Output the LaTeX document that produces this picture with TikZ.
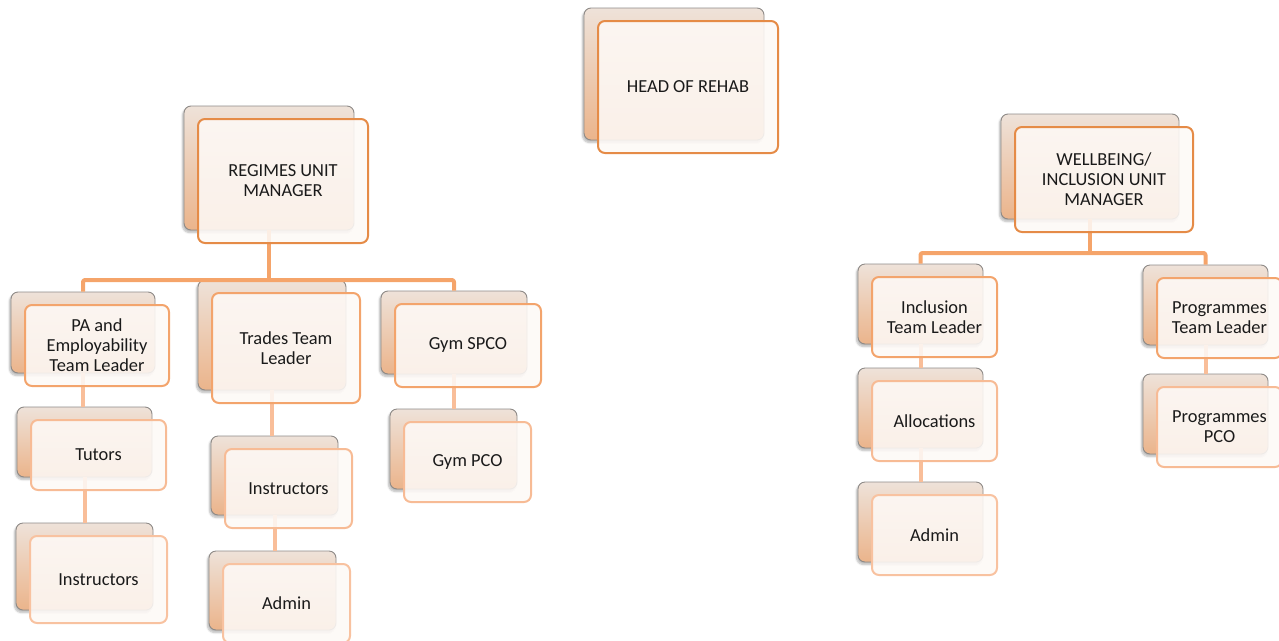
\documentclass[tikz,border=0pt]{standalone}
\usepackage{fontspec}
\setmainfont{Carlito}
\usetikzlibrary{shadows.blur}
\definecolor{bordA}{HTML}{E58B47}
\definecolor{bordB}{HTML}{F3A46C}
\definecolor{bordC}{HTML}{F7BB95}
\definecolor{bordD}{HTML}{F8C2A0}
\definecolor{backtop}{HTML}{EEE2D9}
\definecolor{backbot}{HTML}{EBB48B}
\definecolor{backline}{HTML}{8E8A87}
\definecolor{frontfill}{HTML}{FDF9F6}
\definecolor{connA}{HTML}{F5A46A}
\definecolor{connB}{HTML}{F9BE99}
\definecolor{txt}{HTML}{1A1A1A}
\pgfdeclarelayer{cardback}
\pgfdeclarelayer{conn}
\pgfsetlayers{cardback,conn,main}
\tikzset{
  backcard/.style={draw=backline, line width=0.9pt, rounded corners=7pt,
    top color=backtop, bottom color=backbot, inner sep=0pt,
    blur shadow={shadow xshift=-1.5pt, shadow yshift=-2.5pt, shadow blur steps=6, shadow opacity=28}},
  frontcard/.style={line width=2pt, rounded corners=7pt, fill=frontfill, fill opacity=0.88,
    text opacity=1, inner sep=2pt, align=center, text=txt,
    font=\fontsize{18.4}{20}\selectfont},
  lvlA/.style={draw=bordA},
  lvlB/.style={draw=bordB},
  lvlC/.style={draw=bordC},
  lvlD/.style={draw=bordD},
  connmain/.style={draw=connA, line width=4pt, line join=round},
  connsub/.style={draw=connB, line width=4pt},
}
\newcommand\orgcard[7]{%
  \begin{pgfonlayer}{cardback}
  \node[backcard, minimum width=#5pt, minimum height=#6pt] (#1) at (#3-14,#4-13) {};
  \end{pgfonlayer}
  \node[frontcard, #2, minimum width=#5pt, minimum height=#6pt] (#1-f) at (#3,#4) {#7};
}
\begin{document}
\begin{tikzpicture}[x=1pt,y=-1pt]
\useasboundingbox (0,0) rectangle (1279,640);
% cards
\orgcard{head}{lvlA}{688}{87}{180}{132}{HEAD OF REHAB}
\orgcard{reg}{lvlA}{283}{181}{170}{124}{REGIMES UNIT\\MANAGER}
\orgcard{well}{lvlA}{1104}{179.5}{178}{105}{WELLBEING/\\INCLUSION UNIT\\MANAGER}
\orgcard{pa}{lvlB}{97}{345.5}{144}{81}{PA and\\Employability\\Team Leader}
\orgcard{trades}{lvlB}{286}{348}{148}{110}{Trades Team\\Leader}
\orgcard{gym}{lvlB}{468}{345.5}{146}{83}{Gym SPCO}
\orgcard{tutors}{lvlC}{98.5}{455}{135}{70}{Tutors}
\orgcard{instrL}{lvlD}{98.5}{579.5}{137}{87}{Instructors}
\orgcard{instrT}{lvlC}{288.5}{488.5}{127}{79}{Instructors}
\orgcard{adminT}{lvlD}{286.5}{603.5}{127}{79}{Admin}
\orgcard{gympco}{lvlC}{467.5}{462}{127}{80}{Gym PCO}
\orgcard{incl}{lvlB}{934.5}{317}{125}{80}{Inclusion\\Team Leader}
\orgcard{alloc}{lvlC}{934.5}{421}{125}{80}{Allocations}
\orgcard{adminW}{lvlD}{934.5}{535}{125}{80}{Admin}
\orgcard{progtl}{lvlB}{1219.5}{318}{125}{80}{Programmes\\Team Leader}
\orgcard{progpco}{lvlC}{1219.5}{427}{125}{80}{Programmes\\PCO}
% connectors
\coordinate (barL) at (0,280);
\coordinate (barR) at (0,253);
\begin{pgfonlayer}{conn}
\draw[connmain] (reg.south) -- (reg.south |- barL);
\draw[connmain, rounded corners=2pt] (pa.north) -- (pa.north |- barL) -- (gym.north |- barL) -- (gym.north);
\draw[connmain] (trades.north |- barL) -- (trades.north);
\draw[connmain] (well.south) -- (well.south |- barR);
\draw[connmain, rounded corners=2pt] (incl.north) -- (incl.north |- barR) -- (progtl.north |- barR) -- (progtl.north);
\draw[connsub] (pa.south) -- (pa.south |- tutors.north);
\draw[connsub] (tutors.south) -- (tutors.south |- instrL.north);
\draw[connsub] (trades.south) -- (trades.south |- instrT.north);
\draw[connsub] (instrT.south) -- (instrT.south |- adminT.north);
\draw[connsub] (gym.south) -- (gym.south |- gympco.north);
\draw[connsub] (incl.south) -- (incl.south |- alloc.north);
\draw[connsub] (alloc.south) -- (alloc.south |- adminW.north);
\draw[connsub] (progtl.south) -- (progtl.south |- progpco.north);
\end{pgfonlayer}
\end{tikzpicture}
\end{document}
